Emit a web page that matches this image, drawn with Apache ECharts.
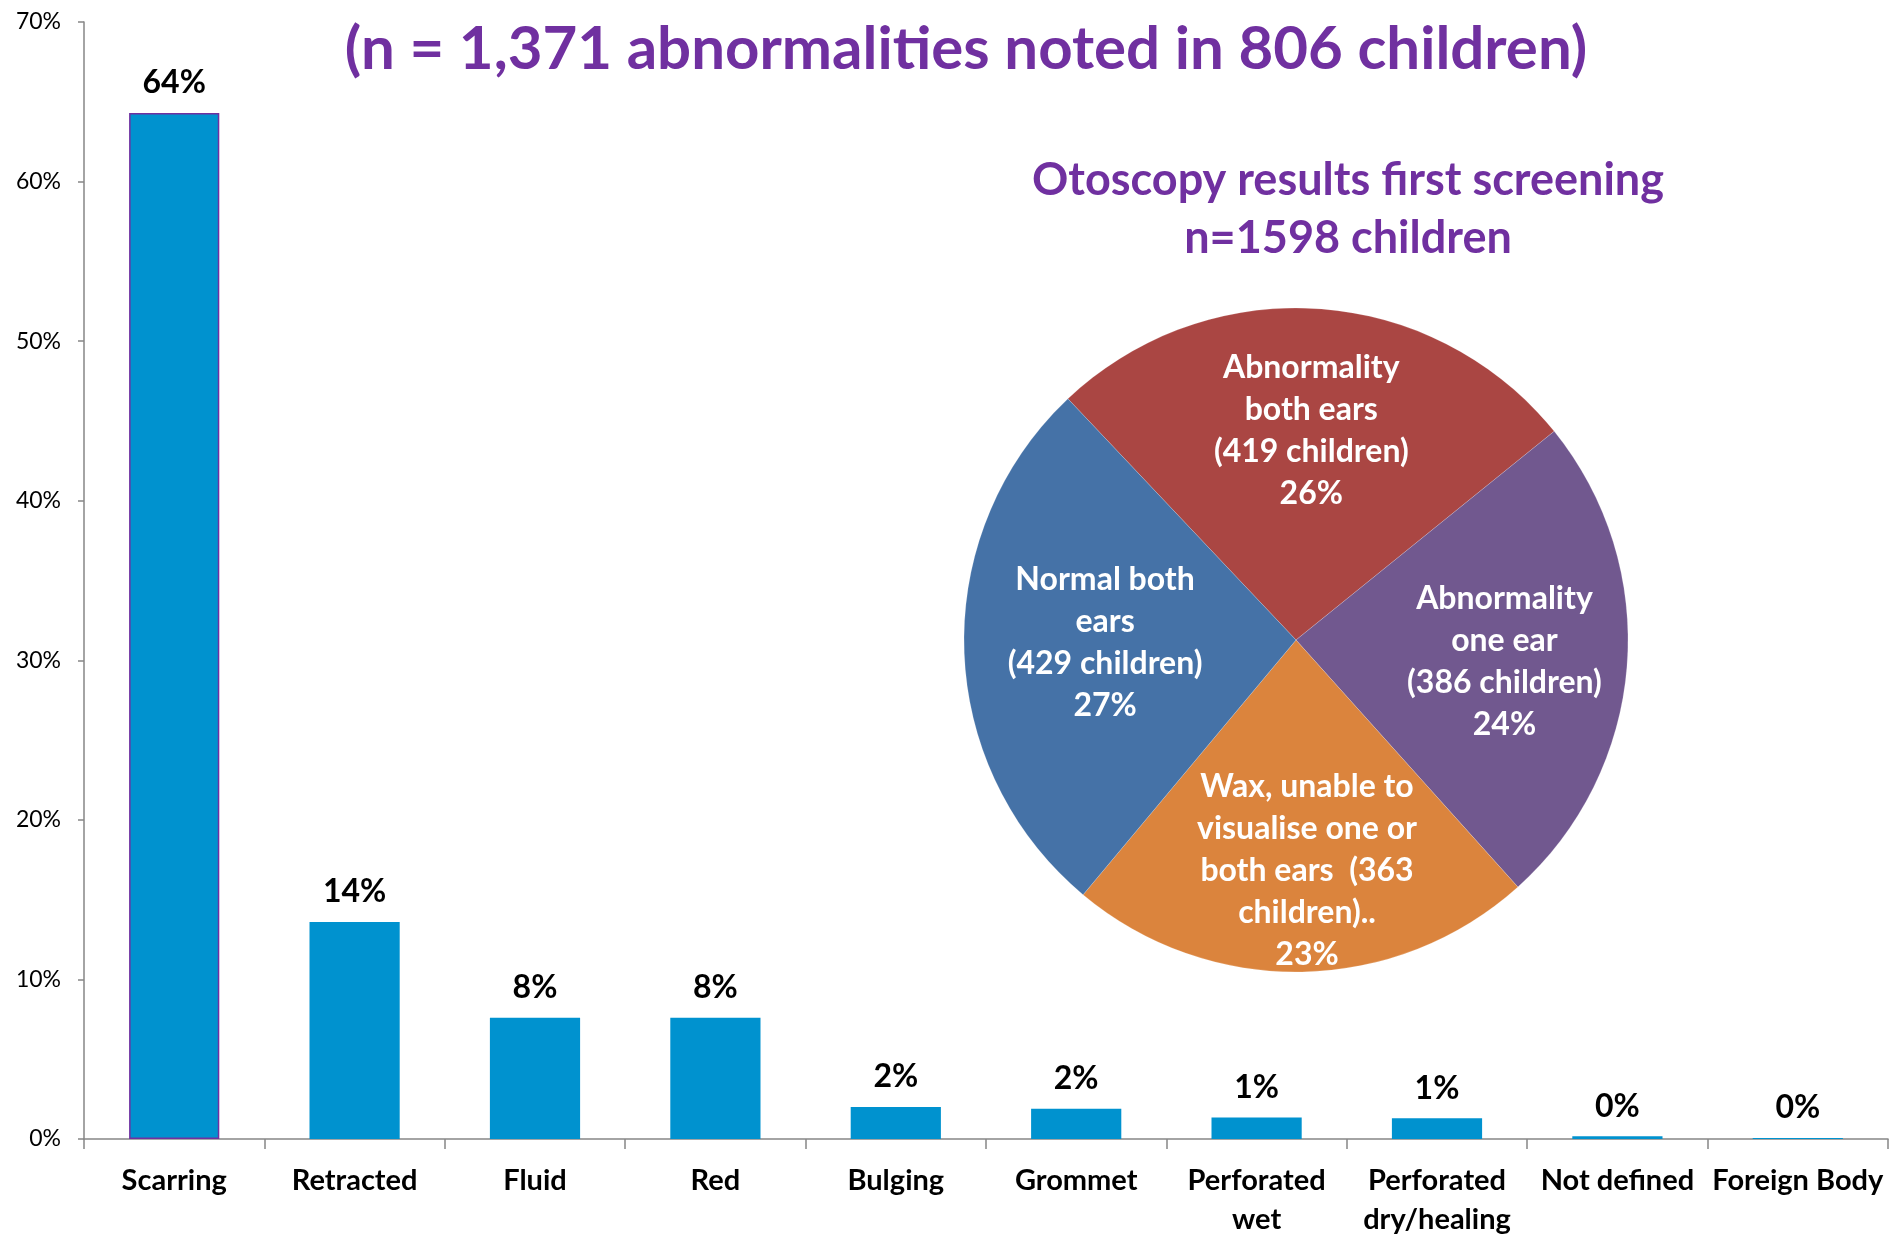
<!DOCTYPE html>
<html>
<head>
<meta charset="utf-8">
<script src="https://cdn.jsdelivr.net/npm/echarts@6/dist/echarts.min.js"></script>
<style>
  html, body { margin: 0; padding: 0; background: #ffffff; }
  #chart { width: 1890px; height: 1236px; }
</style>
</head>
<body>
<div id="chart"></div>
<script>
// Abnormality types found at otoscopy (share of all abnormalities, %)
const categories = [
  'Scarring', 'Retracted', 'Fluid', 'Red', 'Bulging', 'Grommet',
  'Perforated\nwet', 'Perforated\ndry/healing', 'Not defined', 'Foreign Body'
];
const abnormalityPct = [64.3, 13.6, 7.6, 7.6, 2.0, 1.9, 1.34, 1.3, 0.17, 0.06];

// Y axis range (percent)
const yMin = 0;
const yMax = 70;
const yStep = 10;

// First screening outcome per child
const pieNames = [
  'Abnormality both ears',
  'Abnormality one ear',
  'Wax, unable to visualise one or both ears',
  'Normal both ears'
];
const pieChildren = [419, 386, 363, 429];
// Label text per slice: {c} = children, {p} = rounded percentage
const pieLabelTemplates = [
  'Abnormality\nboth ears\n({c} children)\n{p}%',
  'Abnormality\none ear\n({c} children)\n{p}%',
  'Wax, unable to\nvisualise one or\nboth ears  ({c}\nchildren)..\n{p}%',
  'Normal both\nears\n({c} children)\n{p}%'
];

const mainTitle = '(n = 1,371 abnormalities noted in 806 children)';
const pieTitle = ['Otoscopy results first screening', 'n=1598 children'];

// ---- styling ----
const FONT = 'Lato, "Open Sans", sans-serif';
const PURPLE = '#7030A0';
const BAR_BLUE = '#0092CF';
const AXIS_GREY = '#868686';
const pieColors = ['#AA4643', '#71588F', '#DB843D', '#4572A7'];
// fine placement of the slice labels relative to ECharts' inside position
const pieLabelShift = [[4, -41], [40, 8], [8, 62], [-22, -2]];

const chart = echarts.init(document.getElementById('chart'), null, { renderer: 'canvas' });

const barData = abnormalityPct.map((v, i) => i === 0
  ? { value: v, itemStyle: { borderColor: PURPLE, borderWidth: 1.5 } }
  : { value: v });

const pieData = pieNames.map((n, i) => ({
  name: n,
  value: pieChildren[i],
  itemStyle: { color: pieColors[i] }
}));

chart.setOption({
  animation: false,
  backgroundColor: '#ffffff',
  grid: { left: 84, right: 2, top: 22, bottom: 97, containLabel: false, outerBoundsMode: 'none' },
  xAxis: {
    type: 'category',
    data: categories,
    boundaryGap: true,
    axisLine: { show: true, lineStyle: { color: AXIS_GREY, width: 1.5 } },
    axisTick: { show: true, length: 10, lineStyle: { color: AXIS_GREY, width: 1.5 } },
    axisLabel: {
      interval: 0,
      margin: 22,
      color: '#000000',
      fontFamily: FONT,
      fontWeight: 'bold',
      fontSize: 29,
      lineHeight: 39
    },
    splitLine: { show: false }
  },
  yAxis: {
    type: 'value',
    min: yMin,
    max: yMax,
    interval: yStep,
    axisLine: { show: true, lineStyle: { color: AXIS_GREY, width: 1.5 } },
    axisTick: { show: true, length: 6, lineStyle: { color: AXIS_GREY, width: 1.5 } },
    axisLabel: {
      formatter: '{value}%',
      margin: 23,
      color: '#000000',
      fontFamily: FONT,
      fontSize: 23
    },
    splitLine: { show: false }
  },
  series: [
    {
      type: 'bar',
      data: barData,
      barWidth: '50%',
      itemStyle: { color: BAR_BLUE },
      label: {
        show: true,
        position: 'top',
        distance: 14,
        formatter: p => Math.round(p.value) + '%',
        color: '#000000',
        fontFamily: FONT,
        fontWeight: 'bold',
        fontSize: 32,
        lineHeight: 32
      }
    },
    {
      type: 'pie',
      center: [1296, 640],
      radius: [0, 332],
      startAngle: 133.4,
      clockwise: true,
      data: pieData,
      itemStyle: { borderColor: 'rgba(255,255,255,0.35)', borderWidth: 0.5 },
      label: {
        show: true,
        position: 'inside',
        color: '#ffffff',
        fontFamily: FONT,
        fontWeight: 'bold',
        fontSize: 32,
        lineHeight: 42,
        align: 'center',
        formatter: p => pieLabelTemplates[p.dataIndex]
          .replace('{c}', p.value)
          .replace('{p}', Math.round(p.percent))
      },
      labelLayout: p => ({
        dx: pieLabelShift[p.dataIndex][0],
        dy: pieLabelShift[p.dataIndex][1]
      }),
      labelLine: { show: false },
      emphasis: { disabled: true }
    }
  ],
  graphic: [
    {
      type: 'text',
      x: 966, y: 50,
      style: {
        text: mainTitle,
        align: 'center',
        verticalAlign: 'middle',
        fill: PURPLE,
        font: 'bold 60px ' + FONT
      }
    },
    {
      type: 'text',
      x: 1348, y: 180,
      style: {
        text: pieTitle[0],
        align: 'center',
        verticalAlign: 'middle',
        fill: PURPLE,
        font: 'bold 45px ' + FONT
      }
    },
    {
      type: 'text',
      x: 1348, y: 238,
      style: {
        text: pieTitle[1],
        align: 'center',
        verticalAlign: 'middle',
        fill: PURPLE,
        font: 'bold 45px ' + FONT
      }
    }
  ]
});
</script>
</body>
</html>
